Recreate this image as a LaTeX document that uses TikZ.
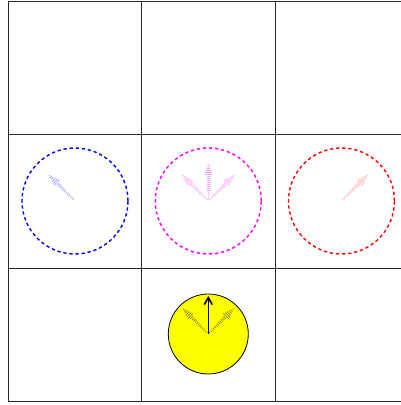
\documentclass[tikz,border=0pt]{standalone}
\usetikzlibrary{calc,arrows.meta}
\definecolor{pblue}{RGB}{0,0,255}
\definecolor{pmag}{RGB}{255,0,255}
\definecolor{pred}{RGB}{255,0,0}
\definecolor{pyel}{RGB}{255,255,0}
\newcommand\fadearr[6]{% center, angle, colour, length, opacity, width
  \foreach \i in {1,...,18}{
    \pgfmathsetmacro\myT{\i/18}
    \pgfmathsetmacro\myW{\myT<0.7 ? 0.5+2*\myT : 0.6+3.6*(1-\myT)/0.3}
    \draw[draw=#3, draw opacity=#5, line width=#6] ($(#1)+(#2:\myT*#4)+(#2+90:\myW)$) -- ($(#1)+(#2:\myT*#4)+(#2-90:\myW)$);
  }}
\begin{document}
\begin{tikzpicture}[x=1pt,y=1pt,
  gridline/.style={draw=black!85, line width=0.9pt},
  ring/.style={circle, line width=1.4pt, dash pattern=on 3.3pt off 2.8pt, minimum size=106pt, inner sep=0pt},
  sun/.style={circle, draw=black, fill=pyel, line width=0.8pt, minimum size=80pt, inner sep=0pt}]
\useasboundingbox (0,0) rectangle (401,405);
% grid
\foreach \x in {8,141.5,275} \draw[gridline] (\x,3.5) -- (\x,404);
\foreach \y in {3.5,137,270.5,404} \draw[gridline] (8,\y) -- (401,\y);
% circles
\node[ring, draw=pblue] (cb) at (75,204) {};
\node[ring, draw=pmag] (cm) at (208.3,204) {};
\node[ring, draw=pred] (cr) at (341.5,204) {};
\node[sun] (cy) at (208.3,71) {};
\coordinate (cbc) at (75,204);
\coordinate (cmc) at (208.3,204);
\coordinate (cmv) at (208.5,204.5);
\coordinate (crc) at (341.5,204);
\coordinate (cyc) at (208.3,71);
% faded arrows
\fadearr{cbc}{135}{pblue}{36}{0.45}{0.6pt}
\fadearr{cmc}{135}{pmag}{36}{0.45}{0.6pt}
\fadearr{cmv}{90}{pmag}{36}{0.4}{1pt}
\fadearr{cmc}{45}{pmag}{36}{0.45}{0.6pt}
\fadearr{crc}{45}{pred}{36}{0.4}{0.6pt}
\fadearr{cyc}{135}{black}{35}{0.6}{0.6pt}
\fadearr{cyc}{45}{black}{35}{0.6}{0.6pt}
\coordinate (tip) at (208.3,109);
\draw[line width=1.6pt, -{Straight Barb[length=7pt,width=8pt]}] (cyc) -- (tip);
\end{tikzpicture}
\end{document}
